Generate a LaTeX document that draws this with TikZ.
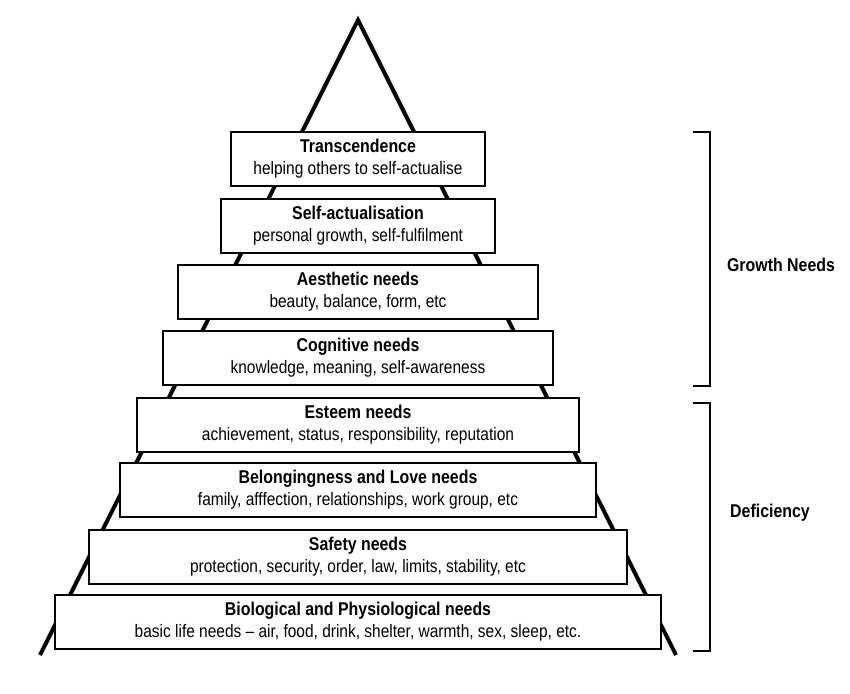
\documentclass[tikz,border=0pt]{standalone}
\usepackage{fontspec}
\setmainfont{Liberation Sans}[FakeStretch=0.86]
\usepackage{tikz}
\usetikzlibrary{scopes}

\newcommand{\lvtitle}[1]{{\fontsize{18.5}{22}\selectfont\bfseries #1}}

\begin{document}
\begin{tikzpicture}[x=1pt,y=-1pt,
    level/.style={rectangle,draw=black,line width=2pt,fill=white,
                  align=center,minimum height=54pt,inner sep=0pt,
                  font=\fontsize{18}{22}\selectfont},
    bracket/.style={line width=2.2pt},
    side/.style={font=\fontsize{18.5}{22}\selectfont\bfseries}]
\useasboundingbox (0,0) rectangle (850,693);

% pyramid outline
\coordinate (apex) at (358,20);
\coordinate (baseL) at (40,655);
\coordinate (baseR) at (676,655);
\draw[line width=4pt,line join=miter] (baseL) -- (apex) -- (baseR);

\begin{scope}[every node/.style={level}]
    \node[minimum width=254pt] (T) at (358,159) {\lvtitle{Transcendence}\\helping others to self-actualise};
    \node[minimum width=274pt] (S) at (358,225.5) {\lvtitle{Self-actualisation}\\personal growth, self-fulfilment};
    \node[minimum width=360pt] (A) at (358,291.5) {\lvtitle{Aesthetic needs}\\beauty, balance, form, etc};
    \node[minimum width=390pt] (C) at (358,358) {\lvtitle{Cognitive needs}\\knowledge, meaning, self-awareness};
    \node[minimum width=442pt] (E) at (358,424.5) {\lvtitle{Esteem needs}\\achievement, status, responsibility, reputation};
    \node[minimum width=476pt] (L) at (358,490) {\lvtitle{Belongingness and Love needs}\\family, afffection, relationships, work group, etc};
    \node[minimum width=538pt] (F) at (358,556.5) {\lvtitle{Safety needs}\\protection, security, order, law, limits, stability, etc};
    \node[minimum width=606pt] (B) at (358,622) {\lvtitle{Biological and Physiological needs}\\basic life needs -- air, food, drink, shelter, warmth, sex, sleep, etc.};
\end{scope}

% brackets
\coordinate (gTop) at (693,132);
\coordinate (gBot) at (693,386);
\coordinate (dTop) at (693,403);
\coordinate (dBot) at (693,651);
\draw[bracket] (gTop) -- ++(17,0) |- (gBot);
\draw[bracket] (dTop) -- ++(17,0) |- (dBot);
\node[side] (growth) at (781,265) {Growth Needs};
\node[side] (defic) at (770,513) {Deficiency};
\end{tikzpicture}
\end{document}
